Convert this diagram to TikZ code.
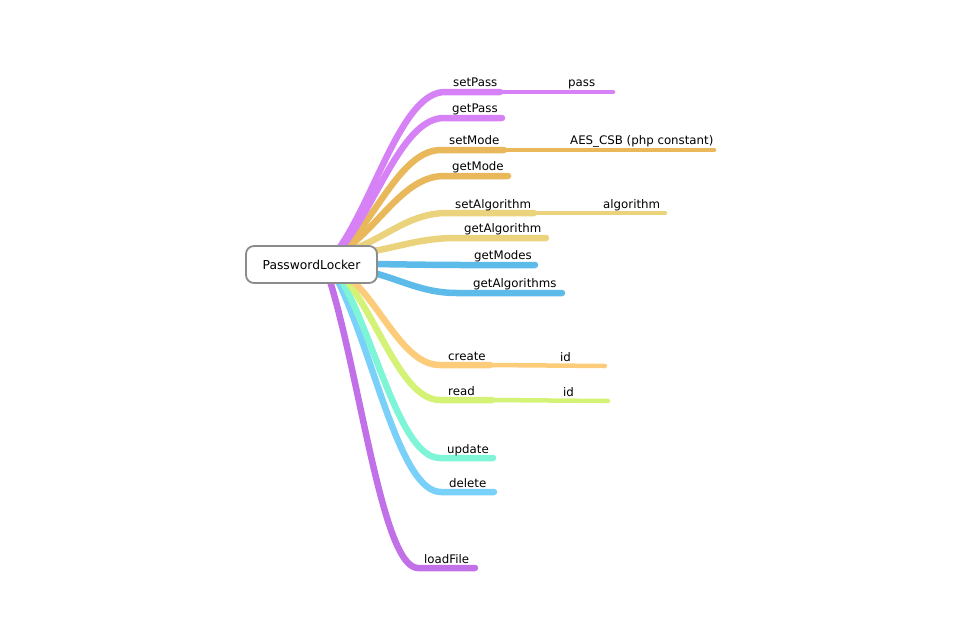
\documentclass[tikz,border=0pt]{standalone}
\usepackage{fontspec}
\setmainfont{DejaVu Sans}
\usetikzlibrary{calc,backgrounds}
\definecolor{cPass}{HTML}{D681F6}
\definecolor{cMode}{HTML}{E8B85A}
\definecolor{cAlg}{HTML}{EBD27C}
\definecolor{cModes}{HTML}{5CBBE8}
\definecolor{cCreate}{HTML}{FDCC7A}
\definecolor{cRead}{HTML}{D4F276}
\definecolor{cUpd}{HTML}{7EF5D6}
\definecolor{cDel}{HTML}{79D0F8}
\definecolor{cLoad}{HTML}{C170E8}
\definecolor{cBorder}{HTML}{8C8C8C}
\begin{document}
\begin{tikzpicture}[x=1pt,y=-1pt,
  br/.style={line width=6.5pt,line cap=round,
    to path={let \p1=(\tikztostart), \p2=(\tikztotarget) in
      .. controls ($(\p1)!0.35!(\p2)$) and ({0.6*\x2+0.4*\x1},\y2) .. (\tikztotarget)}},
  sub/.style={line width=4.5pt,line cap=round},
  lbl/.style={anchor=base west,inner sep=0pt,text=black,font=\fontsize{11.8}{14}\selectfont},
  rootbox/.style={draw=cBorder,line width=1.8pt,fill=white,rounded corners=8pt,
    minimum width=131pt,minimum height=37pt,inner sep=0pt,text=black,font=\fontsize{12.3}{14}\selectfont}]
\useasboundingbox (0,0) rectangle (960,640);

\node[rootbox] (root) at (311.5,264.5) {PasswordLocker};

% start points (behind root)
\coordinate (s1) at (340,247);
\coordinate (s2) at (342,247);
\coordinate (s3) at (345,247);
\coordinate (s4) at (348,247);
\coordinate (s5) at (356,248);
\coordinate (s6) at (368,252);
\coordinate (s7) at (370,264);
\coordinate (s8) at (370,272);
\coordinate (s9) at (353,281);
\coordinate (s10) at (347,281);
\coordinate (s11) at (342,281);
\coordinate (s12) at (338,281);
\coordinate (s13) at (330,281);

% curve ends
\coordinate (e1) at (445,92);
\coordinate (e2) at (444,118);
\coordinate (e3) at (441,150);
\coordinate (e4) at (444,176);
\coordinate (e5) at (447,213);
\coordinate (e6) at (456,238);
\coordinate (e7) at (466,265);
\coordinate (e8) at (457,293);
\coordinate (e9) at (440,365);
\coordinate (e10) at (440,400);
\coordinate (e11) at (440,458);
\coordinate (e12) at (441,492);
\coordinate (e13) at (418,568);

% underline ends
\coordinate (f1) at (500,92);
\coordinate (f2) at (502,118);
\coordinate (f3) at (504,150);
\coordinate (f4) at (508,176);
\coordinate (f5) at (534,213);
\coordinate (f6) at (546,238);
\coordinate (f7) at (535,265);
\coordinate (f8) at (562,293);
\coordinate (f9) at (490,365);
\coordinate (f10) at (492,400);
\coordinate (f11) at (493,458);
\coordinate (f12) at (494,492);
\coordinate (f13) at (475,568);

% child ends
\coordinate (g1) at (613,92);
\coordinate (g3) at (714,150);
\coordinate (g5) at (665,213);
\coordinate (g9) at (605,366);
\coordinate (g10) at (608,401);

\begin{scope}[on background layer]
  \draw[sub,cPass] (f1) -- (g1);
  \draw[sub,cMode] (f3) -- (g3);
  \draw[sub,cAlg] (f5) -- (g5);
  \draw[sub,cCreate] (f9) -- (g9);
  \draw[sub,cRead] (f10) -- (g10);

  \draw[br,cLoad] (s13) to (e13) -- (f13);
  \draw[br,cDel] (s12) to (e12) -- (f12);
  \draw[br,cUpd] (s11) to (e11) -- (f11);
  \draw[br,cRead] (s10) to (e10) -- (f10);
  \draw[br,cCreate] (s9) to (e9) -- (f9);
  \draw[br,cModes] (s8) to (e8) -- (f8);
  \draw[br,cModes] (s7) to (e7) -- (f7);
  \draw[br,cAlg] (s6) to (e6) -- (f6);
  \draw[br,cAlg] (s5) to (e5) -- (f5);
  \draw[br,cMode] (s4) to (e4) -- (f4);
  \draw[br,cMode] (s3) to (e3) -- (f3);
  \draw[br,cPass] (s2) to (e2) -- (f2);
  \draw[br,cPass] (s1) to (e1) -- (f1);
\end{scope}

\node[lbl] (l1) at (453,86.5) {setPass};
\node[lbl] (l1a) at (568,86.5) {pass};
\node[lbl] (l2) at (452,112.5) {getPass};
\node[lbl] (l3) at (449,144.5) {setMode};
\node[lbl] (l3a) at (570,144.5) {AES\_CSB (php constant)};
\node[lbl] (l4) at (452,170.5) {getMode};
\node[lbl] (l5) at (455,208) {setAlgorithm};
\node[lbl] (l5a) at (603,208) {algorithm};
\node[lbl] (l6) at (464,232.5) {getAlgorithm};
\node[lbl] (l7) at (474,259.5) {getModes};
\node[lbl] (l8) at (473,287.5) {getAlgorithms};
\node[lbl] (l9) at (448,360) {create};
\node[lbl] (l9a) at (560,361) {id};
\node[lbl] (l10) at (448,395) {read};
\node[lbl] (l10a) at (563,396) {id};
\node[lbl] (l11) at (447,453) {update};
\node[lbl] (l12) at (449,487) {delete};
\node[lbl] (l13) at (424,563) {loadFile};
\end{tikzpicture}
\end{document}
